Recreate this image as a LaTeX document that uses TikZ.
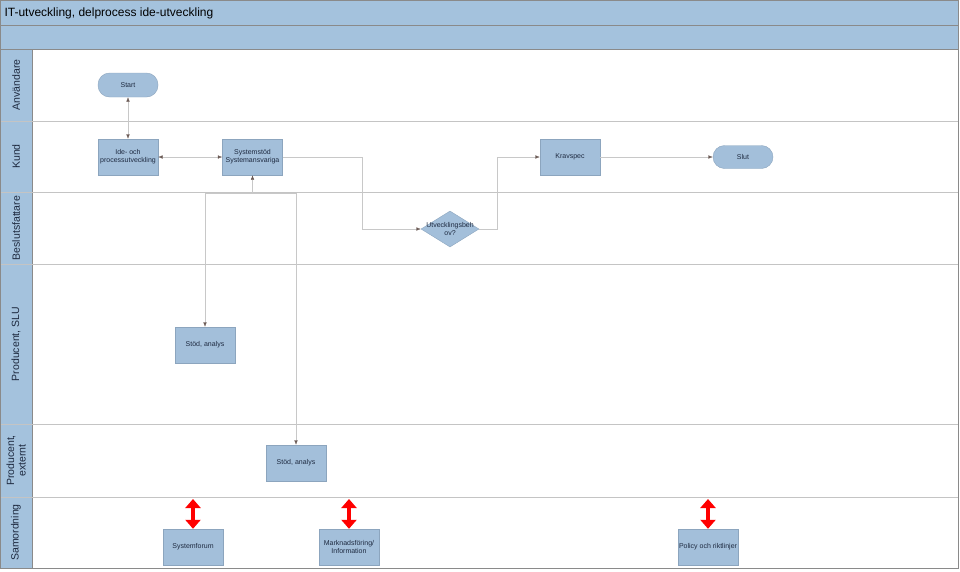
\documentclass[tikz,border=0pt]{standalone}
\usepackage{fontspec}
\setmainfont{Liberation Sans}
\usetikzlibrary{arrows.meta,shapes.geometric}
\definecolor{lanefill}{HTML}{A4C2DD}
\definecolor{boxfill}{HTML}{A3BFDA}
\definecolor{boxline}{HTML}{8CA5BE}
\definecolor{textcol}{HTML}{1E2A40}
\definecolor{conline}{HTML}{C8C8C8}
\definecolor{tipcol}{HTML}{6B5A55}
\definecolor{laneline}{HTML}{C4C4C4}
\definecolor{frameline}{HTML}{8A8A8A}
\tikzset{
  proc/.style={draw=boxline, fill=boxfill, minimum width=60pt, minimum height=36pt,
    align=center, text=textcol, inner sep=0.5pt, font=\fontsize{7}{8.2}\selectfont},
  term/.style={proc, rounded corners=11.5pt, minimum height=24pt},
  decision/.style={diamond, draw=boxline, fill=boxfill, minimum width=58pt,
    minimum height=36pt, inner sep=0pt},
  flow/.style={draw=conline, -{Latex[length=4.5pt,width=3.5pt,color=tipcol]}},
  flowboth/.style={draw=conline, {Latex[length=4.5pt,width=3.5pt,color=tipcol]}-{Latex[length=4.5pt,width=3.5pt,color=tipcol]}},
  bigarrow/.style={draw=red, line width=4pt, {Triangle[length=9pt,width=15pt]}-{Triangle[length=9pt,width=15pt]}},
  lanelabel/.style={rotate=90, align=center, text=textcol, font=\fontsize{10.5}{11.5}\selectfont}
}
\begin{document}
\begin{tikzpicture}[x=1pt, y=-1pt]
\useasboundingbox (0,0) rectangle (960,571);
% Header bars and lane label column
\fill[lanefill] (0,0) rectangle (958,49);
\fill[lanefill] (0,49) rectangle (32,568);
\draw[frameline] (0,25) -- (958,25);
\draw[frameline] (0,49) -- (958,49);
\draw[frameline] (32,49) -- (32,568);
\node[anchor=west, text=black, font=\fontsize{12}{14}\selectfont] (title) at (1,13) {IT-utveckling, delprocess ide-utveckling};
% Lane separators
\foreach \y in {121,192,264,424,497}
  \draw[laneline] (0,\y) -- (958,\y);
% Lane labels
\node[lanelabel] (l1) at (16,85) {Användare};
\node[lanelabel] (l2) at (16,156.5) {Kund};
\node[lanelabel] (l3) at (16,228) {Beslutsfattare};
\node[lanelabel] (l4) at (16,344) {Producent, SLU};
\node[lanelabel] (l5) at (16,460.5) {Producent,\\externt};
\node[lanelabel] (l6) at (16,532.5) {Samordning};
% Outer frame
\draw[frameline] (0.5,0.5) rectangle (958,568);
% Process nodes
\node[term] (start) at (128,85) {Start};
\node[proc] (ide) at (128,157) {Ide- och\\processutveckling};
\node[proc] (sys) at (252.5,157) {Systemstöd\\Systemansvariga};
\node[proc] (krav) at (570,157) {Kravspec};
\node[term, minimum height=23pt] (slut) at (743,157) {Slut};
\node[decision, label={[align=center, text=textcol, font=\fontsize{7}{8.2}\selectfont]center:Utvecklingsbeh\\ov?}] (beh) at (450,229) {};
\node[proc] (stod1) at (205,345) {Stöd, analys};
\node[proc] (stod2) at (296,463) {Stöd, analys};
\node[proc] (sf) at (193,547) {Systemforum};
\node[proc] (mi) at (349,547) {Marknadsföring/\\Information};
\node[proc] (pr) at (708,547) {Policy och riktlinjer};
% Connectors
\draw[flowboth] (start) -- (ide);
\draw[flowboth] (ide) -- (sys);
\draw[flow] (sys.east) -- ++(79,0) |- (beh.west);
\draw[flow] (beh.east) -- ++(18,0) |- (krav.west);
\draw[flow] (krav) -- (slut);
\coordinate (split) at (252.5,193);
\draw[flow] (split) -- (sys.south);
\draw[conline] (stod1.north |- split) -- (stod2.north |- split);
\draw[flow] (stod1.north |- split) -- (stod1.north);
\draw[flow] (stod2.north |- split) -- (stod2.north);
% Red double arrows in Samordning
\coordinate (r1) at (193,499);
\coordinate (r2) at (349,499);
\coordinate (r3) at (708,499);
\draw[bigarrow] (r1) -- (sf.north);
\draw[bigarrow] (r2) -- (mi.north);
\draw[bigarrow] (r3) -- (pr.north);
\end{tikzpicture}
\end{document}
